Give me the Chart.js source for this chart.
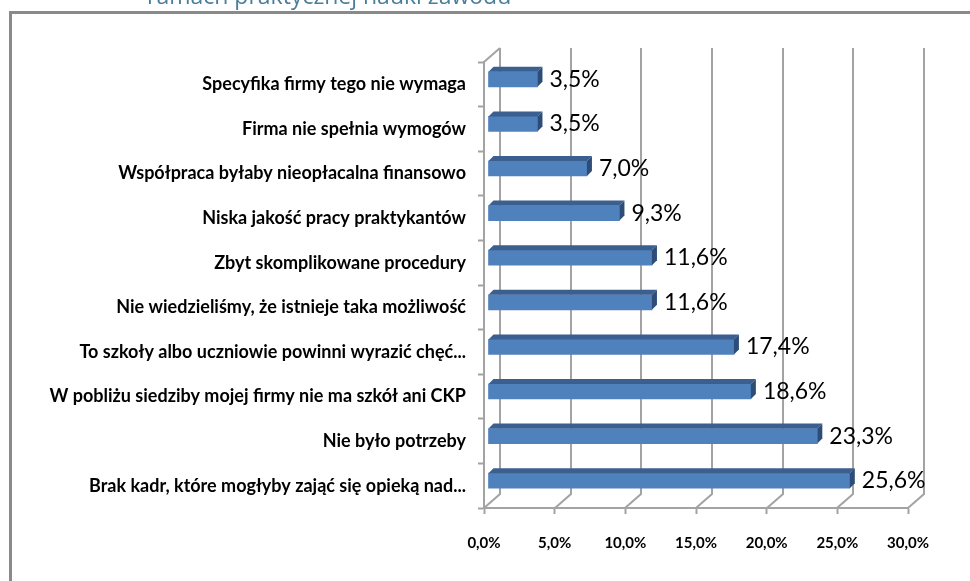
<!DOCTYPE html>
<html>
<head>
<meta charset="utf-8">
<script src="https://cdn.jsdelivr.net/npm/chart.js@4"></script>
<style>
  body { margin: 0; background: #fff; }
  #wrap { width: 970px; height: 581px; }
</style>
</head>
<body>
<div id="wrap"><canvas id="chart" width="970" height="581"></canvas></div>
<script>
// Data
// ================================================================================
let categories = [
	"Specyfika firmy tego nie wymaga",
	"Firma nie spełnia wymogów",
	"Współpraca byłaby nieopłacalna finansowo",
	"Niska jakość pracy praktykantów",
	"Zbyt skomplikowane procedury",
	"Nie wiedzieliśmy, że istnieje taka możliwość",
	"To szkoły albo uczniowie powinni wyrazić chęć...",
	"W pobliżu siedziby mojej firmy nie ma szkół ani CKP",
	"Nie było potrzeby",
	"Brak kadr, które mogłyby zająć się opieką nad..."
];
let percent_values = [3.5, 3.5, 7.0, 9.3, 11.6, 11.6, 17.4, 18.6, 23.3, 25.6];
let x_tick_values = [0, 5, 10, 15, 20, 25, 30];
let title_text = "ramach praktycznej nauki zawodu";

let fmt = v => v.toFixed(1).replace('.', ',') + '%';

// 3D depth of the plot box and of the bars
let wall_dx = 16, wall_dy = -14;
let bar_dx = 4, bar_dy = -5, face = 5;

// Plugins
// ================================================================================
let frame_plugin = {
	id: 'frame',
	beforeDraw(chart) {
		let ctx = chart.ctx;
		ctx.save();
		ctx.fillStyle = '#fff';
		ctx.fillRect(0, 0, chart.width, chart.height);
		ctx.strokeStyle = '#8a8a8a';
		ctx.lineWidth = 3;
		ctx.beginPath();
		ctx.moveTo(10.5, chart.height);
		ctx.lineTo(10.5, 12.5);
		ctx.lineTo(chart.width, 12.5);
		ctx.stroke();
		// cut off title above the frame
		ctx.fillStyle = '#4a7e9b';
		ctx.font = '23px "Open Sans"';
		ctx.textAlign = 'left';
		ctx.textBaseline = 'alphabetic';
		ctx.fillText(title_text, 147, 4);
		ctx.restore();
	}
};

let wall_plugin = {
	id: 'wall',
	beforeDatasetsDraw(chart) {
		let ctx = chart.ctx, x = chart.scales.x, area = chart.chartArea;
		ctx.save();
		ctx.strokeStyle = '#a3a3a3';
		ctx.lineWidth = 2;
		x_tick_values.forEach(v => {
			let px = Math.round(x.getPixelForValue(v));
			ctx.beginPath();
			ctx.moveTo(px + wall_dx, area.top + wall_dy);
			ctx.lineTo(px + wall_dx, area.bottom + wall_dy);
			ctx.lineTo(px, area.bottom);
			ctx.stroke();
		});
		// left wall top edge
		ctx.beginPath();
		ctx.moveTo(area.left, area.top);
		ctx.lineTo(area.left + wall_dx, area.top + wall_dy);
		ctx.stroke();
		ctx.restore();

		// bars are drawn a little into the depth of the box
		ctx.save();
		ctx.translate(bar_dx, bar_dy);
	},
	afterDatasetsDraw(chart) {
		let ctx = chart.ctx;
		let meta = chart.getDatasetMeta(0);
		meta.data.forEach(bar => {
			let x0 = bar.base, x1 = bar.x;
			let top = bar.y - bar.height / 2, bottom = bar.y + bar.height / 2;
			// top face
			ctx.fillStyle = '#3b5f8f';
			ctx.beginPath();
			ctx.moveTo(x0, top);
			ctx.lineTo(x1, top);
			ctx.lineTo(x1 + face, top - face);
			ctx.lineTo(x0 + face, top - face);
			ctx.closePath();
			ctx.fill();
			// side face
			ctx.fillStyle = '#2d4d78';
			ctx.beginPath();
			ctx.moveTo(x1, top);
			ctx.lineTo(x1 + face, top - face);
			ctx.lineTo(x1 + face, bottom - face);
			ctx.lineTo(x1, bottom);
			ctx.closePath();
			ctx.fill();
		});
		// value labels
		ctx.fillStyle = '#000';
		ctx.font = '23px Lato';
		ctx.textAlign = 'left';
		ctx.textBaseline = 'middle';
		meta.data.forEach((bar, i) => {
			ctx.fillText(fmt(percent_values[i]), bar.x + face + 7, bar.y);
		});
		ctx.restore();
	}
};

// Chart
// ================================================================================
let chart = new Chart(document.getElementById('chart'), {
	type: 'bar',
	data: {
		labels: categories,
		datasets: [{
			data: percent_values,
			backgroundColor: '#4f81bd',
			borderWidth: 0,
			barThickness: 15
		}]
	},
	options: {
		indexAxis: 'y',
		responsive: false,
		animation: false,
		layout: { padding: { left: 10, top: 62, right: 62, bottom: 0 } },
		plugins: {
			legend: { display: false },
			tooltip: { enabled: false }
		},
		scales: {
			x: {
				min: 0,
				max: 30,
				afterBuildTicks: scale => {
					scale.ticks = x_tick_values.map(v => ({ value: v }));
				},
				afterFit: scale => { scale.height = 73; },
				grid: {
					drawOnChartArea: false,
					tickLength: 6,
					tickWidth: 2,
					color: '#a3a3a3'
				},
				border: { display: true, color: '#a3a3a3', width: 2 },
				ticks: {
					padding: 20,
					color: '#000',
					font: { family: 'Lato', size: 15, weight: 'bold' },
					callback: v => fmt(v)
				}
			},
			y: {
				afterFit: scale => { scale.width = 474; },
				grid: {
					drawOnChartArea: false,
					offset: true,
					tickLength: 6,
					tickWidth: 2,
					color: '#a3a3a3'
				},
				border: { display: true, color: '#a3a3a3', width: 2 },
				ticks: {
					padding: 12,
					color: '#000',
					autoSkip: false,
					font: { family: 'Lato', size: 18, weight: 'bold' }
				}
			}
		}
	},
	plugins: [frame_plugin, wall_plugin]
});
</script>
</body>
</html>
